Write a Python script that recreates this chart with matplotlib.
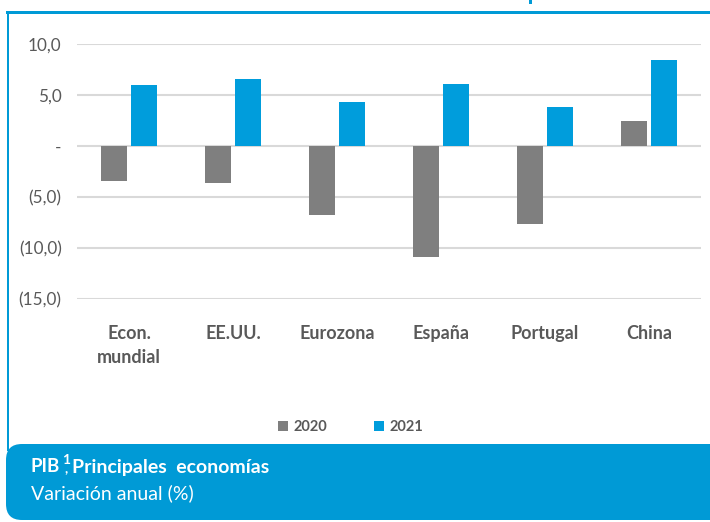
import numpy as np
import matplotlib
matplotlib.use('Agg')
import matplotlib.pyplot as plt
from matplotlib.patches import FancyBboxPatch, Rectangle

plt.rcParams['font.family'] = ['Lato', 'DejaVu Sans']

categories = ['Econ.\nmundial', 'EE.UU.', 'Eurozona', 'España', 'Portugal', 'China']
pib_2020 = [-3.4, -3.6, -6.8, -10.9, -7.6, 2.5]
pib_2021 = [6.0, 6.6, 4.3, 6.1, 3.8, 8.4]
years = ['2020', '2021']
y_ticks = [10, 5, 0, -5, -10, -15]
y_labels = ['10,0', '5,0', '-', '(5,0)', '(10,0)', '(15,0)']

GREY = '#7f7f7f'
BLUE = '#009ddc'
BAND = '#009ad6'
TXT = '#595959'

W, H = 710, 522
fig = plt.figure(figsize=(W / 100, H / 100), dpi=100)

# background frame, drawn in pixel units
bg = fig.add_axes([0, 0, 1, 1], zorder=0)
bg.set_xlim(0, W)
bg.set_ylim(H, 0)
bg.axis('off')
bg.add_patch(Rectangle((6, 11), W, 2.5, color=BAND, lw=0))
bg.add_patch(Rectangle((6.5, 11), 2.5, 440, color=BAND, lw=0))
bg.add_patch(Rectangle((529, 0), 3, 4, color=BAND, lw=0))
bg.add_patch(FancyBboxPatch((6, 444), W + 40, 76, boxstyle='round,pad=0,rounding_size=16',
                            color=BAND, lw=0))
bg.text(31, 467, 'PIB', color='white', fontsize=13.5, fontweight='bold', va='center')
bg.text(66, 465, '1\n,', color='white', fontsize=10, fontweight='bold', va='center',
        ha='center', linespacing=0.7)
bg.text(72, 467, 'Principales  economías', color='white', fontsize=14, fontweight='bold', va='center')
bg.text(31, 493, 'Variación anual (%)', color='white', fontsize=14, va='center')

ax = fig.add_axes([77 / W, 1 - 299 / H, 624 / W, 255 / H], zorder=1)
ax.set_facecolor('none')

x = np.arange(len(categories))
bw = 0.245
off = 0.143
ax.bar(x - off, pib_2020, bw, color=GREY, label=years[0], zorder=3)
ax.bar(x + off, pib_2021, bw, color=BLUE, label=years[1], zorder=3)

ax.set_xlim(-0.5, len(categories) - 0.5)
ax.set_ylim(-15, 10)
ax.set_yticks(y_ticks)
ax.set_yticklabels(y_labels)
ax.set_xticks(x)
ax.set_xticklabels(categories, fontweight='bold', linespacing=1.45)
ax.grid(axis='y', color='#d9d9d9', lw=1.5, zorder=0)
ax.tick_params(axis='y', length=0, pad=11, labelsize=12.3, labelcolor=TXT)
ax.tick_params(axis='x', length=0, pad=19, labelsize=13, labelcolor=TXT)
for s in ax.spines.values():
    s.set_visible(False)

leg = fig.legend(loc='center', bbox_to_anchor=(0.494, 1 - 427 / H), ncol=2, frameon=False,
                 handlelength=0.65, handleheight=0.65, handletextpad=0.4, columnspacing=3.2,
                 prop={'weight': 'bold', 'size': 10.5})
for t in leg.get_texts():
    t.set_color(TXT)

fig.savefig('out.png', dpi=100)
